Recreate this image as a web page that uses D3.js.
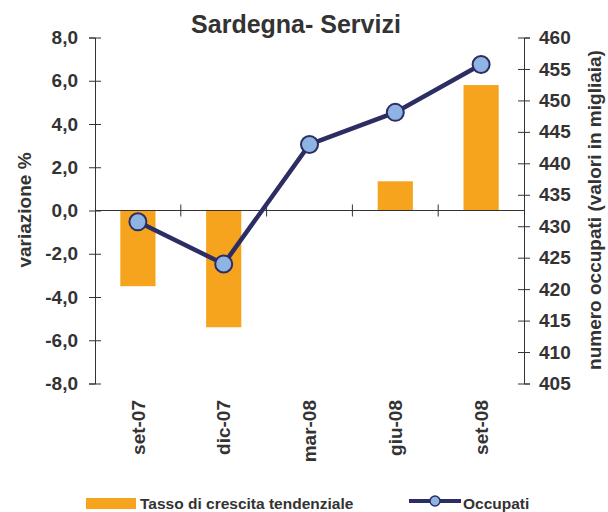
<!DOCTYPE html>
<html>
  <head>
    <title>Sardegna- Servizi</title>
    <script src="https://d3js.org/d3.v7.min.js"></script>
    <style>
      body { margin: 0; background: #fff; }
      text { font-family: "Liberation Sans", Arial, sans-serif; font-weight: bold; fill: #333; }
    </style>
  </head>
  <body>
    <div id="graph-container"></div>
    <script>
      const categories = ["set-07", "dic-07", "mar-08", "giu-08", "set-08"];
      const tasso = [-3.5, -5.4, 0, 1.35, 5.8];
      const occupati = [430.7, 424.0, 443.0, 448.1, 455.7];
      const leftTicks = [-8, -6, -4, -2, 0, 2, 4, 6, 8];
      const rightTicks = [405, 410, 415, 420, 425, 430, 435, 440, 445, 450, 455, 460];

      const width = 608;
      const height = 512;
      const plotLeft = 95, plotRight = 524, plotTop = 37.5, plotBottom = 383.5;
      const ink = "#333";

      const svg = d3.select("#graph-container")
        .append("svg")
        .attr("width", width)
        .attr("height", height);

      const x = d3.scaleBand()
        .domain(categories)
        .range([plotLeft, plotRight]);

      const y = d3.scaleLinear()
        .domain([-8, 8])
        .range([plotBottom, plotTop]);

      const y2 = d3.scaleLinear()
        .domain([405, 460])
        .range([plotBottom, plotTop]);

      // bars
      const barW = x.bandwidth() * 0.41;
      svg.selectAll(".bar")
        .data(categories.map((c, i) => ({ c, v: tasso[i] })).filter(d => d.v !== 0))
        .enter()
        .append("rect")
        .attr("x", d => x(d.c) + x.bandwidth() / 2 - barW / 2)
        .attr("y", d => y(Math.max(0, d.v)))
        .attr("width", barW)
        .attr("height", d => Math.abs(y(d.v) - y(0)))
        .attr("fill", "#F6A31E");

      // left axis
      const gl = svg.append("g")
        .attr("transform", "translate(" + plotLeft + ",0)")
        .call(d3.axisLeft(y).tickValues(leftTicks).tickSizeOuter(0).tickSize(6).tickPadding(11)
          .tickFormat(d => d.toFixed(1).replace(".", ",")));
      gl.selectAll("line").attr("x1", 6);
      gl.selectAll("path, line").attr("stroke", ink);
      gl.selectAll("text").style("font-size", "19px");

      // right axis
      const gr = svg.append("g")
        .attr("transform", "translate(" + plotRight + ",0)")
        .call(d3.axisRight(y2).tickValues(rightTicks).tickSizeOuter(0).tickSize(6).tickPadding(9));
      gr.selectAll("line").attr("x1", -6);
      gr.selectAll("path, line").attr("stroke", ink);
      gr.selectAll("text").style("font-size", "19px");

      // zero line with category separators
      svg.append("line")
        .attr("x1", plotLeft).attr("x2", plotRight)
        .attr("y1", y(0)).attr("y2", y(0))
        .attr("stroke", ink);
      svg.selectAll(".sep")
        .data(categories.slice(1))
        .enter()
        .append("line")
        .attr("x1", d => x(d)).attr("x2", d => x(d))
        .attr("y1", y(0) - 6).attr("y2", y(0) + 6)
        .attr("stroke", ink);

      // category labels
      svg.selectAll(".cat")
        .data(categories)
        .enter()
        .append("text")
        .attr("transform", d => "translate(" + (x(d) + x.bandwidth() / 2) + ",400) rotate(-90)")
        .attr("text-anchor", "end")
        .attr("dy", "0.35em")
        .style("font-size", "19px")
        .text(d => d);

      // line series
      const line = d3.line()
        .x((d, i) => x(categories[i]) + x.bandwidth() / 2)
        .y(d => y2(d));
      svg.append("path")
        .datum(occupati)
        .attr("d", line)
        .attr("fill", "none")
        .attr("stroke", "#2C2D62")
        .attr("stroke-width", 4.5);
      svg.selectAll(".pt")
        .data(occupati)
        .enter()
        .append("circle")
        .attr("cx", (d, i) => x(categories[i]) + x.bandwidth() / 2)
        .attr("cy", d => y2(d))
        .attr("r", 8.5)
        .attr("fill", "#8EB4E3")
        .attr("stroke", "#2C2D62")
        .attr("stroke-width", 2);

      // title
      svg.append("text")
        .attr("x", 296).attr("y", 33)
        .attr("text-anchor", "middle")
        .style("font-size", "25px")
        .text("Sardegna- Servizi");

      // axis titles
      svg.append("text")
        .attr("transform", "translate(31,210) rotate(-90)")
        .attr("text-anchor", "middle")
        .style("font-size", "19px")
        .text("variazione %");
      svg.append("text")
        .attr("transform", "translate(601,210) rotate(-90)")
        .attr("text-anchor", "middle")
        .style("font-size", "19px")
        .text("numero occupati (valori in migliaia)");

      // legend
      svg.append("rect")
        .attr("x", 86).attr("y", 498).attr("width", 50).attr("height", 11)
        .attr("fill", "#F6A31E");
      svg.append("text")
        .attr("x", 140).attr("y", 509)
        .style("font-size", "15.5px")
        .text("Tasso di crescita tendenziale");
      svg.append("line")
        .attr("x1", 409).attr("x2", 461).attr("y1", 501).attr("y2", 501)
        .attr("stroke", "#2C2D62").attr("stroke-width", 4);
      svg.append("circle")
        .attr("cx", 435).attr("cy", 501).attr("r", 5)
        .attr("fill", "#8EB4E3").attr("stroke", "#2C2D62").attr("stroke-width", 1.5);
      svg.append("text")
        .attr("x", 463).attr("y", 509)
        .style("font-size", "15.5px")
        .text("Occupati");
    </script>
  </body>
</html>
